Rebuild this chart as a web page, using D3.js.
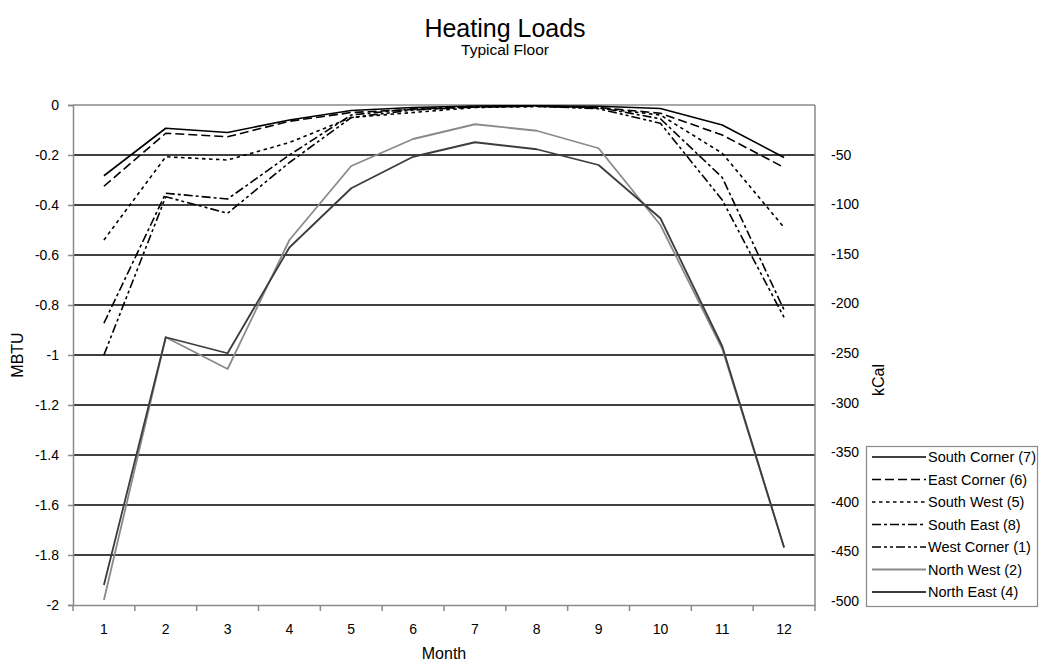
<!DOCTYPE html>
<html><head><meta charset="utf-8">
<script src="https://cdn.jsdelivr.net/npm/d3@7"></script>
<style>body{margin:0;background:#fff;} text{font-family:"Liberation Sans",Arial,sans-serif;}</style>
</head><body>
<svg id="c" width="1040" height="662"></svg>
<script>
const months = [1,2,3,4,5,6,7,8,9,10,11,12];
const seriesNames = ["South Corner (7)","East Corner (6)","South West (5)","South East (8)","West Corner (1)","North West (2)","North East (4)"];
const southCorner = [-0.283,-0.093,-0.11,-0.06,-0.022,-0.01,-0.004,-0.003,-0.005,-0.014,-0.08,-0.21];
const eastCorner  = [-0.325,-0.113,-0.127,-0.065,-0.03,-0.018,-0.008,-0.005,-0.01,-0.033,-0.12,-0.25];
const southWest   = [-0.54,-0.207,-0.22,-0.15,-0.05,-0.03,-0.01,-0.006,-0.012,-0.04,-0.193,-0.49];
const southEast   = [-0.873,-0.353,-0.376,-0.2,-0.04,-0.015,-0.006,-0.004,-0.01,-0.055,-0.29,-0.82];
const westCorner  = [-1.0,-0.367,-0.433,-0.23,-0.05,-0.02,-0.008,-0.005,-0.015,-0.073,-0.38,-0.85];
const northWest   = [-1.98,-0.929,-1.056,-0.54,-0.244,-0.136,-0.077,-0.103,-0.173,-0.48,-0.975,-1.77];
const northEast   = [-1.92,-0.929,-0.993,-0.57,-0.333,-0.207,-0.149,-0.177,-0.24,-0.453,-0.965,-1.77];
const leftTicks = [0,-0.2,-0.4,-0.6,-0.8,-1,-1.2,-1.4,-1.6,-1.8,-2];
const rightTicks = [-50,-100,-150,-200,-250,-300,-350,-400,-450,-500];

const allSeries = [southCorner,eastCorner,southWest,southEast,westCorner,northWest,northEast];
const styles = [
  {stroke:"#000", dash:null, w:1.6},
  {stroke:"#000", dash:"9,4", w:1.6},
  {stroke:"#000", dash:"3.5,3.5", w:1.6},
  {stroke:"#000", dash:"9,3,3,3", w:1.6},
  {stroke:"#000", dash:"9,3,3,3,3,3", w:1.6},
  {stroke:"#8a8a8a", dash:null, w:1.8},
  {stroke:"#3c3c3c", dash:null, w:1.8}
];
const FONT = "Liberation Sans, Arial, sans-serif";

const svg = d3.select("#c");
const L=73,R=815,T=105,B=605;
const x = d3.scaleBand().domain(months).range([L,R]);
const y = d3.scaleLinear().domain([-2,0]).range([B,T]);
const y2 = d3.scaleLinear().domain([-504,0]).range([B,T]);

// gridlines
svg.append("g").selectAll("line").data(leftTicks.filter(d=>d<0 && d>-2)).join("line")
  .attr("x1",L).attr("x2",R).attr("y1",d=>y(d)).attr("y2",d=>y(d))
  .attr("stroke","#000").attr("stroke-width",1.6);

// frame
svg.append("line").attr("x1",L).attr("x2",R).attr("y1",T).attr("y2",T).attr("stroke","#8a8a8a").attr("stroke-width",1.5);
svg.append("line").attr("x1",R).attr("x2",R).attr("y1",T).attr("y2",B).attr("stroke","#8a8a8a").attr("stroke-width",1.5);

// left axis
const ga = svg.append("g").attr("transform",`translate(${L},0)`)
  .call(d3.axisLeft(y).tickValues(leftTicks).tickSize(5).tickPadding(9).tickFormat(d=>String(+d.toFixed(1))));
ga.select(".domain").attr("stroke","#8a8a8a").attr("stroke-width",1.5);
ga.selectAll(".tick line").attr("stroke","#8a8a8a").attr("stroke-width",1.5);
ga.selectAll("text").attr("font-size",14).attr("fill","#000").attr("font-family",FONT);

// bottom axis
const gb = svg.append("g").attr("transform",`translate(0,${B})`)
  .call(d3.axisBottom(x).tickSize(0).tickPadding(19));
gb.select(".domain").attr("stroke","#8a8a8a").attr("stroke-width",1.5);
gb.selectAll("text").attr("font-size",14).attr("fill","#000").attr("font-family",FONT);
svg.append("g").selectAll("line").data(months.concat([13])).join("line")
  .attr("x1",d=>d<=12?x(d):R).attr("x2",d=>d<=12?x(d):R).attr("y1",B).attr("y2",B+6)
  .attr("stroke","#8a8a8a").attr("stroke-width",1.5);

// right axis
const gr = svg.append("g").attr("transform",`translate(${R},0)`)
  .call(d3.axisRight(y2).tickValues(rightTicks).tickSize(0).tickPadding(16).tickFormat(d=>String(d)));
gr.select(".domain").remove();
gr.selectAll("text").attr("font-size",14).attr("fill","#000").attr("font-family",FONT);

// lines
const line = d3.line().x((d,i)=>x(months[i])+x.bandwidth()/2).y(d=>y(d));
allSeries.forEach((s,i)=>{
  svg.append("path").datum(s).attr("d",line).attr("fill","none")
    .attr("stroke",styles[i].stroke).attr("stroke-width",styles[i].w)
    .attr("stroke-dasharray",styles[i].dash).attr("stroke-linejoin","round");
});

// titles
svg.append("text").attr("x",505).attr("y",37).attr("text-anchor","middle").attr("font-size",25).text("Heating Loads");
svg.append("text").attr("x",505).attr("y",55).attr("text-anchor","middle").attr("font-size",15.5).text("Typical Floor");
svg.append("text").attr("x",444).attr("y",659).attr("text-anchor","middle").attr("font-size",16).text("Month");
svg.append("text").attr("transform","translate(23,355) rotate(-90)").attr("text-anchor","middle").attr("font-size",16).text("MBTU");
svg.append("text").attr("transform","translate(884,380) rotate(-90)").attr("text-anchor","middle").attr("font-size",16).text("kCal");

// legend
const lg = svg.append("g");
lg.append("rect").attr("x",866.5).attr("y",446.5).attr("width",171).attr("height",160)
  .attr("fill","#fff").attr("stroke","#8a8a8a").attr("stroke-width",1.2);
seriesNames.forEach((n,i)=>{
  const yy = 457 + i*22.5;
  lg.append("line").attr("x1",872).attr("x2",926).attr("y1",yy).attr("y2",yy)
    .attr("stroke",styles[i].stroke).attr("stroke-width",styles[i].w).attr("stroke-dasharray",styles[i].dash);
  lg.append("text").attr("x",928).attr("y",yy+5).attr("font-size",14.5).text(n);
});
</script>
</body></html>
